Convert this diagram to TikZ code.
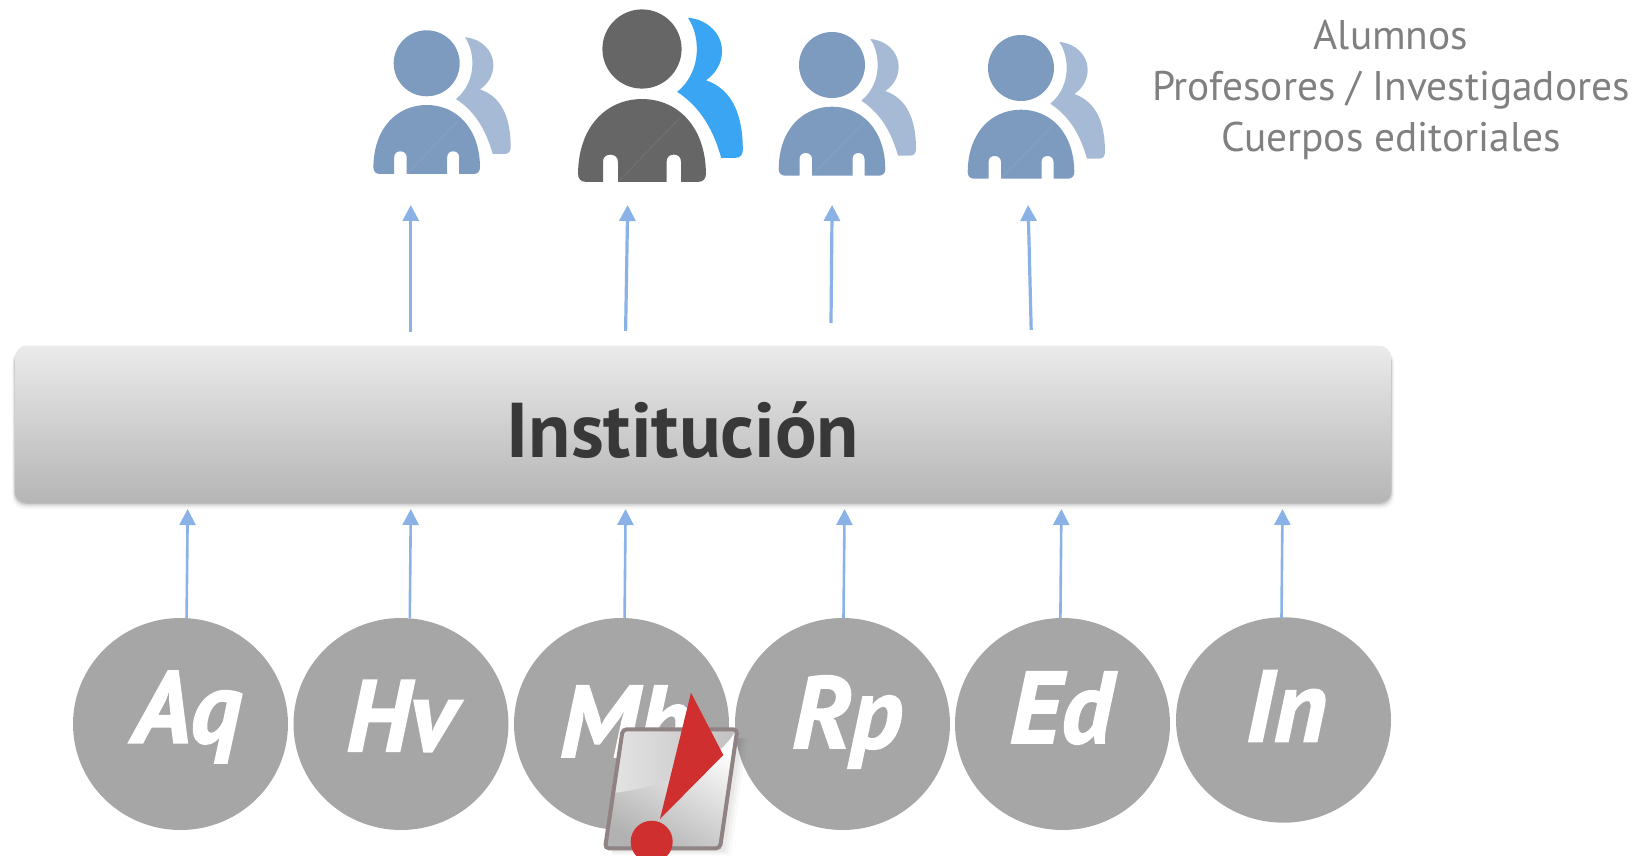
\documentclass[tikz,border=0pt]{standalone}
\usepackage{fontspec}
\setmainfont{PT Sans}
\newfontfamily\badgefont[FakeBold=1.5]{PT Sans Bold Italic}
\usetikzlibrary{arrows.meta,shapes.geometric}
\definecolor{arrowblue}{HTML}{8AB2E6}
\definecolor{circlegray}{HTML}{A6A6A6}
\definecolor{softfront}{HTML}{7D9ABF}
\definecolor{softback}{HTML}{A6BAD5}
\definecolor{darkfront}{HTML}{666666}
\definecolor{brightback}{HTML}{3AA5F2}
\definecolor{alertred}{HTML}{CF2F2F}
\definecolor{framegray}{HTML}{8F8383}
\tikzset{
  x=0.5pt,y=-0.5pt,
  upflow/.style={draw=arrowblue,line width=1.6pt,-{Triangle[width=8pt,length=8pt]}},
  lowflow/.style={draw=arrowblue,line width=1.3pt,-{Triangle[width=8pt,length=8pt]}},
  badge/.style={ellipse,fill=circlegray,minimum width=107.5pt,minimum height=106pt,inner sep=0pt},
  badgetext/.style={text=white,font=\fontsize{51}{51}\selectfont\badgefont,inner sep=0pt},
  legendtext/.style={text=black!50,font=\fontsize{20.7}{25.5}\selectfont,align=center,inner sep=0pt},
}
\newcommand{\personicon}[5]{%
  \begin{scope}[shift={(#1,#2)},scale=#3]
    \fill[#5] (38.3,-26) .. controls (54,-25) and (66.7,-13) .. (66.7,1.7)
      .. controls (66.7,12) and (61,21) .. (53.3,26)
      .. controls (76,34) and (84,56) .. (84,84)
      .. controls (84,88) and (82,90.7) .. (78,90.7) -- (66,90.7)
      .. controls (58,62) and (45,46) .. (29.3,35.7)
      .. controls (40,27) and (45.7,14) .. (45.7,0)
      .. controls (45.7,-10) and (43,-19) .. (38.3,-26) -- cycle;
    \fill[#4] (0,0) circle[radius=33];
    \fill[#4] (-47,110.7) .. controls (-51,110.7) and (-53.3,108) .. (-53.3,104)
      .. controls (-53,64) and (-29,41.7) .. (0,41.7)
      .. controls (29,41.7) and (53,64) .. (53.3,104)
      .. controls (53.3,108) and (51,110.7) .. (47,110.7)
      -- (32.5,110.7) -- (32.5,94)
      .. controls (32.5,90) and (30,88) .. (26.5,88)
      .. controls (23,88) and (20.5,90) .. (20.5,94)
      -- (20.5,110.7) -- (-20,110.7) -- (-20,94)
      .. controls (-20,90) and (-23,88) .. (-26.2,88)
      .. controls (-30,88) and (-32.5,90) .. (-32.5,94)
      -- (-32.5,110.7) -- cycle;
    \draw[white,opacity=.08,line width=.4pt] (-20,110.7) -- (32,57);
  \end{scope}}
\begin{document}
\begin{tikzpicture}
\useasboundingbox (0,0) rectangle (1635,856);
\begin{scope}
\clip (0,0) rectangle (1635,856);
% people
\personicon{426.7}{63.3}{1}{softfront}{softback}
\personicon{642}{49}{1.2}{darkfront}{brightback}
\personicon{832}{65}{1}{softfront}{softback}
\personicon{1021}{68}{1}{softfront}{softback}
% legend
\node[legendtext] (legend) at (1391,90) {Alumnos\\Profesores / Investigadores\\Cuerpos editoriales};
% bar with shadow
\foreach \g/\o in {6/.03,4/.05,2.5/.08,1/.12}
  \fill[black,opacity=\o,rounded corners=6pt] (15-\g/2,350) rectangle (1391+\g/2,503+\g);
\node[rounded corners=6pt,top color=black!8,bottom color=black!29,minimum width=688pt,minimum height=78.5pt,inner sep=0pt] (bar) at (703,424) {};
\node[text=black!78,font=\fontsize{38.8}{38.8}\selectfont\bfseries,inner sep=0pt] (barlabel) at (683,430) {Institución};
% badges
\node[badge] (aq) at (180.5,724) {};
\node[badge] (hv) at (401,724) {};
\node[badge] (mb) at (621.5,724) {};
\node[badge] (rp) at (842.5,724) {};
\node[badge] (ed) at (1062.5,724) {};
\node[badge,minimum height=102.7pt] (in) at (1283.5,720) {};
\node[badgetext] (aqt) at (187,717) {Aq};
\node[badgetext] (hvt) at (401,716) {Hv};
\node[badgetext] (mbt) at (625,722) {Mb};
\node[badgetext] (rpt) at (847,722) {Rp};
\node[badgetext] (edt) at (1061,708) {Ed};
\node[badgetext] (int) at (1286,706) {In};
% lower arrows
\coordinate (a1s) at (186.6,618); \coordinate (a1e) at (187.7,509);
\coordinate (a2s) at (409.8,618); \coordinate (a2e) at (410.8,509);
\coordinate (a3s) at (624.6,618); \coordinate (a3e) at (625.6,509);
\coordinate (a4s) at (843.5,618); \coordinate (a4e) at (844.6,509);
\coordinate (a5s) at (1060.4,618); \coordinate (a5e) at (1061.4,509);
\coordinate (a6s) at (1281.5,618); \coordinate (a6e) at (1282.5,509);
\foreach \k in {1,...,6} \draw[lowflow] (a\k s) -- (a\k e);
% upper arrows
\coordinate (u1s) at (410.8,332); \coordinate (u1e) at (410.8,205);
\coordinate (u2s) at (625.6,331); \coordinate (u2e) at (627.7,205);
\coordinate (u3s) at (831,323); \coordinate (u3e) at (832.1,205);
\coordinate (u4s) at (1031.2,330); \coordinate (u4e) at (1028.1,205);
\foreach \k in {1,...,4} \draw[upflow] (u\k s) -- (u\k e);
% alert icon
\foreach \g/\o in {10/.025,7/.03,4/.04}
  \fill[black,opacity=\o] (630,738) -- (738+\g,738) -- (721+\g,850+\g/2) -- (612,850+\g/2) -- cycle;
\shade[rounded corners=2pt,left color=white,right color=black!30,shading angle=-30]
  (622.7,729.3) -- (737.3,729.3) -- (720,848.3) -- (605,848.3) -- cycle;
\shade[left color=black!11,right color=black!24]
  (622.7,731) -- (735,731) -- (733,735) .. controls (712,765) and (665,787) .. (613.5,793) -- cycle;
\draw[framegray,line width=2pt,rounded corners=2pt]
  (622.7,729.3) -- (737.3,729.3) -- (720,848.3) -- (605,848.3) -- cycle;
\fill[alertred] (691,692.7) -- (723.3,755) -- (660,819) -- cycle;
\fill[alertred] (651.7,841.7) circle[radius=21];
\end{scope}
\end{tikzpicture}
\end{document}
